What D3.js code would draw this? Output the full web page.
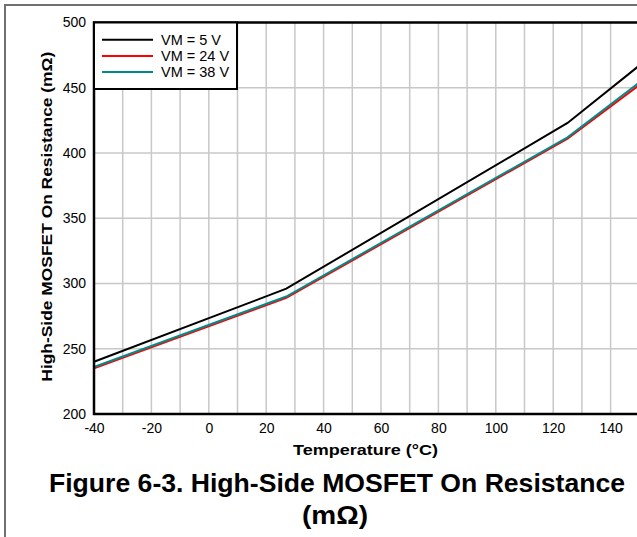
<!DOCTYPE html>
<html><head><meta charset="utf-8">
<script src="https://cdn.jsdelivr.net/npm/d3@7"></script>
<style>
html,body{margin:0;padding:0;background:#fff;overflow:hidden;}
svg{display:block;font-family:"Liberation Sans",Arial,sans-serif;}
</style></head>
<body><svg id="c" width="637" height="537"></svg>
<script>
const temps = [-40, 27, 125, 150];
const vm5 = [240, 296, 423, 467];
const vm24 = [235, 289, 411, 452];
const vm38 = [236, 290, 412, 454];
const seriesNames = ["VM = 5 V", "VM = 24 V", "VM = 38 V"];
const seriesColors = ["#000000", "#ff0000", "#008b8b"];
const xTicks = [-40, -20, 0, 20, 40, 60, 80, 100, 120, 140];
const yTicks = [200, 250, 300, 350, 400, 450, 500];

const svg = d3.select("#c");
const FF = "Liberation Sans, Arial, sans-serif";
const L = 94, T = 22.5, B = 414, R = 94 + 200 * 2.87;
const x = d3.scaleLinear().domain([-40, 160]).range([L, R]);
const y = d3.scaleLinear().domain([200, 500]).range([B, T]);

// outer frame
svg.append("rect").attr("x", 5).attr("y", 5).attr("width", 700).attr("height", 600)
  .attr("fill", "none").attr("stroke", "#707070").attr("stroke-width", 2);

// grid
const g = svg.append("g");
g.selectAll(".vg").data(d3.range(-30, 160, 10)).join("line")
  .attr("x1", d => x(d)).attr("x2", d => x(d)).attr("y1", T).attr("y2", B)
  .attr("stroke", "#c8c8c8").attr("stroke-width", 1.5);
g.selectAll(".hg").data(yTicks.slice(1, -1)).join("line")
  .attr("x1", L).attr("x2", R).attr("y1", d => y(d)).attr("y2", d => y(d))
  .attr("stroke", "#c8c8c8").attr("stroke-width", 1.5);

// series
const all = [vm5, vm24, vm38];
const line = d3.line().x((d, i) => x(temps[i])).y(d => y(d));
[1, 2, 0].forEach(k => {
  svg.append("path").datum(all[k]).attr("d", line)
    .attr("fill", "none").attr("stroke", seriesColors[k]).attr("stroke-width", 2);
});

// frame
svg.append("rect").attr("x", L).attr("y", T).attr("width", R - L).attr("height", B - T)
  .attr("fill", "none").attr("stroke", "#000").attr("stroke-width", 2.5);

// axes
const xa = svg.append("g").attr("transform", `translate(0,${B})`)
  .call(d3.axisBottom(x).tickValues(xTicks).tickSize(0).tickPadding(9).tickFormat(d => String(d)));
xa.select(".domain").remove();
xa.selectAll("text").attr("font-size", 14).attr("fill", "#000").attr("font-family", FF);
const ya = svg.append("g").attr("transform", `translate(${L},0)`)
  .call(d3.axisLeft(y).tickValues(yTicks).tickSize(0).tickPadding(8).tickFormat(d => String(d)));
ya.select(".domain").remove();
ya.selectAll("text").attr("font-size", 14).attr("fill", "#000").attr("font-family", FF);

// axis titles
svg.append("text").attr("x", 365.5).attr("y", 455).attr("text-anchor", "middle")
  .attr("font-size", 15).attr("font-weight", "bold")
  .attr("textLength", 145).attr("lengthAdjust", "spacingAndGlyphs").text("Temperature (°C)");
svg.append("text").attr("transform", `translate(51.5,216.7) rotate(-90)`).attr("text-anchor", "middle")
  .attr("font-size", 15).attr("font-weight", "bold")
  .attr("textLength", 330).attr("lengthAdjust", "spacingAndGlyphs").text("High-Side MOSFET On Resistance (mΩ)");

// title
svg.append("text").attr("x", 337).attr("y", 492).attr("text-anchor", "middle")
  .attr("font-size", 25).attr("font-weight", "bold")
  .attr("textLength", 576).attr("lengthAdjust", "spacingAndGlyphs").text("Figure 6-3. High-Side MOSFET On Resistance");
svg.append("text").attr("x", 335).attr("y", 524).attr("text-anchor", "middle")
  .attr("font-size", 25).attr("font-weight", "bold")
  .attr("textLength", 66).attr("lengthAdjust", "spacingAndGlyphs").text("(mΩ)");

// legend
const lg = svg.append("g");
lg.append("rect").attr("x", L).attr("y", T).attr("width", 237 - L).attr("height", 89 - T)
  .attr("fill", "#fff").attr("stroke", "#000").attr("stroke-width", 2);
seriesNames.forEach((n, i) => {
  const yy = 39.7 + i * 16.2;
  lg.append("line").attr("x1", 102).attr("x2", 153).attr("y1", yy).attr("y2", yy)
    .attr("stroke", seriesColors[i]).attr("stroke-width", 2);
  lg.append("text").attr("x", 161).attr("y", yy + 5).attr("font-size", 14.5).text(n);
});
</script></body></html>
